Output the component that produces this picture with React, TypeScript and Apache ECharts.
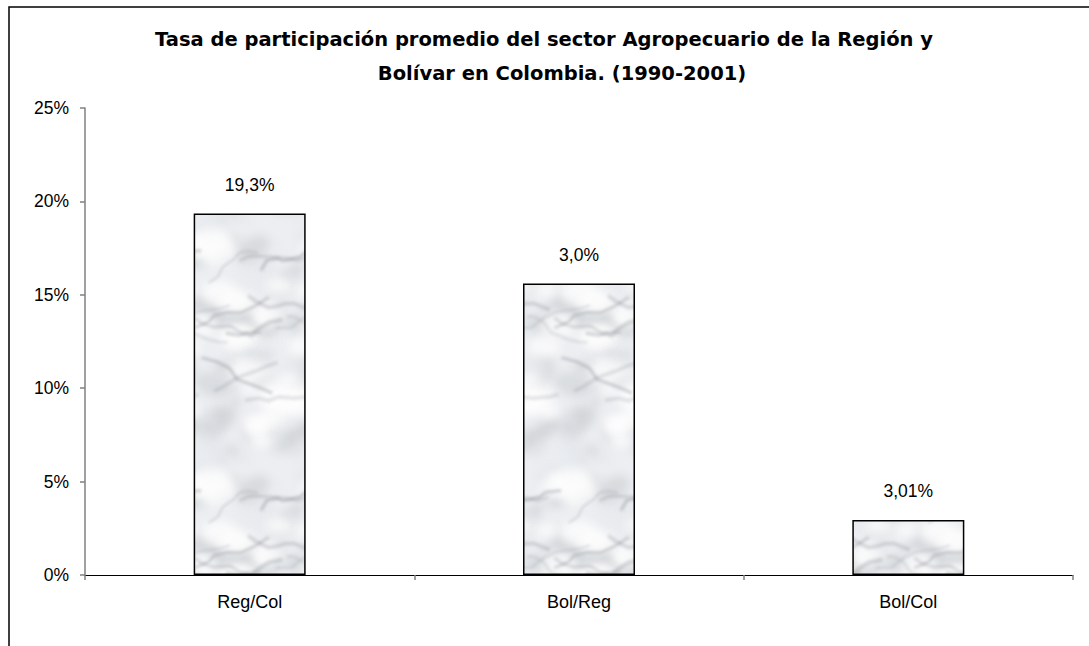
import React, { useEffect, useRef } from "react";
import * as echarts from "echarts";

const titleLines = [
  "Tasa de participación promedio del sector Agropecuario de la Región y",
  "Bolívar en Colombia. (1990-2001)",
];
const categories = ["Reg/Col", "Bol/Reg", "Bol/Col"];
const values = [19.35, 15.6, 2.95];
const barLabels = ["19,3%", "3,0%", "3,01%"];
const yMax = 25;
const yInterval = 5;

function hash(n: number): number {
  const s = Math.sin(n * 127.1 + 311.7) * 43758.5453;
  return s - Math.floor(s);
}

function makeMarble(): HTMLCanvasElement {
  const W = 120;
  const H = 240;
  const c = document.createElement("canvas");
  c.width = W;
  c.height = H;
  const ctx = c.getContext("2d")!;
  ctx.fillStyle = "#eceef1";
  ctx.fillRect(0, 0, W, H);
  const wrap = (draw: (ox: number, oy: number) => void) => {
    for (let dx = -1; dx <= 1; dx++)
      for (let dy = -1; dy <= 1; dy++) draw(dx * W, dy * H);
  };
  ctx.filter = "blur(5px)";
  for (let i = 0; i < 55; i++) {
    const x = hash(i) * W;
    const y = hash(i + 100) * H;
    const r = 6 + hash(i + 200) * 14;
    const shade = 190 + Math.floor(hash(i + 300) * 45);
    ctx.fillStyle = `rgba(${shade},${shade + 3},${shade + 7},0.5)`;
    wrap((ox, oy) => {
      ctx.beginPath();
      ctx.ellipse(x + ox, y + oy, r, r * 0.6, hash(i + 400) * Math.PI, 0, Math.PI * 2);
      ctx.fill();
    });
  }
  for (let i = 0; i < 28; i++) {
    const x = hash(i + 500) * W;
    const y = hash(i + 600) * H;
    const r = 8 + hash(i + 700) * 12;
    ctx.fillStyle = "rgba(253,253,254,0.75)";
    wrap((ox, oy) => {
      ctx.beginPath();
      ctx.ellipse(x + ox, y + oy, r, r * 0.7, 0, 0, Math.PI * 2);
      ctx.fill();
    });
  }
  ctx.filter = "blur(1.8px)";
  for (let k = 0; k < 12; k++) {
    const pts: number[][] = [];
    let x = hash(k + 800) * W;
    let y = hash(k + 900) * H;
    const dir = hash(k + 1400) > 0.5 ? 1 : -1;
    pts.push([x, y]);
    for (let s = 0; s < 6; s++) {
      x += dir * (5 + hash(k * 20 + s + 1200) * 12);
      y += (hash(k * 20 + s + 1300) - 0.2) * 14;
      pts.push([x, y]);
    }
    ctx.strokeStyle = `rgba(125,131,139,${0.18 + hash(k + 1000) * 0.18})`;
    ctx.lineWidth = 1.5 + hash(k + 1100) * 2.5;
    wrap((ox, oy) => {
      ctx.beginPath();
      ctx.moveTo(pts[0][0] + ox, pts[0][1] + oy);
      for (let s = 1; s < pts.length; s++) ctx.lineTo(pts[s][0] + ox, pts[s][1] + oy);
      ctx.stroke();
    });
  }
  ctx.filter = "none";
  return c;
}

export default function App() {
  const ref = useRef<HTMLDivElement>(null);
  useEffect(() => {
    if (!ref.current) return;
    const chart = echarts.init(ref.current, null, { renderer: "svg" });
    const marble = makeMarble();
    const font = "'Liberation Sans', Arial, sans-serif";
    const titleFont = "'DejaVu Sans', 'Liberation Sans', sans-serif";
    chart.setOption({
      animation: false,
      backgroundColor: "#ffffff",
      textStyle: { fontFamily: font },
      graphic: [
        {
          type: "rect",
          shape: { x: 9, y: 7, width: 1200, height: 800 },
          style: { fill: "none", stroke: "#000", lineWidth: 1.5 },
          silent: true,
        },
        {
          type: "text",
          x: 544,
          y: 39,
          style: {
            text: titleLines[0],
            font: `bold 19.5px ${titleFont}`,
            fill: "#000",
            textAlign: "center",
            textVerticalAlign: "middle",
          },
        },
        {
          type: "text",
          x: 562,
          y: 73,
          style: {
            text: titleLines[1],
            font: `bold 19.5px ${titleFont}`,
            fill: "#000",
            textAlign: "center",
            textVerticalAlign: "middle",
          },
        },
      ],
      grid: { left: 85, right: 16, top: 108, bottom: 71, containLabel: false },
      xAxis: {
        type: "category",
        data: categories,
        axisLine: { lineStyle: { color: "#000", width: 1 } },
        axisTick: { show: true, alignWithLabel: false, length: 5, lineStyle: { color: "#808080", width: 1.5 } },
        axisLabel: { color: "#000", fontSize: 18, margin: 18, fontFamily: font },
      },
      yAxis: {
        type: "value",
        min: 0,
        max: yMax,
        interval: yInterval,
        axisLine: { show: true, lineStyle: { color: "#808080", width: 1.5 } },
        axisTick: { show: true, length: 5, lineStyle: { color: "#808080", width: 1.5 } },
        splitLine: { show: false },
        axisLabel: {
          color: "#000",
          fontSize: 17.5,
          margin: 16,
          fontFamily: font,
          formatter: (v: number) => `${v}%`,
        },
      },
      series: [
        {
          type: "bar",
          data: values,
          barWidth: 112,
          itemStyle: {
            color: { image: marble, repeat: "repeat" },
            borderColor: "#000",
            borderWidth: 1.5,
          },
          label: {
            show: true,
            position: "top",
            distance: 20,
            color: "#000",
            fontSize: 17.5,
            fontFamily: font,
            formatter: (p: any) => barLabels[p.dataIndex],
          },
        },
      ],
    });
    return () => chart.dispose();
  }, []);
  return (
    <div
      ref={ref}
      style={{ position: "fixed", left: 0, top: 0, width: 1089, height: 646 }}
    />
  );
}
